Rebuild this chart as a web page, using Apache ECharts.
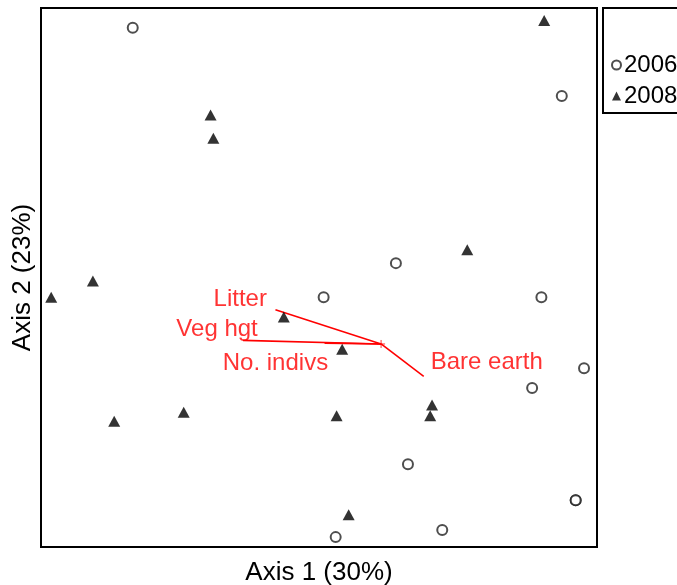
<!DOCTYPE html>
<html>
<head>
<meta charset="utf-8">
<script src="https://cdn.jsdelivr.net/npm/echarts@6/dist/echarts.min.js"></script>
<style>
html,body{margin:0;padding:0;background:#fff;}
#chart_main{width:677px;height:585px;}
</style>
</head>
<body>
<div id="chart_main"></div>
<script>
// 样本得分 (axis 1, axis 2)
var pts2006 = [
	[-2.01, 2.78], [2.62, 2.02], [0.83, 0.16], [0.05, -0.22], [2.40, -0.22],
	[2.86, -1.01], [2.30, -1.23], [0.96, -2.08], [2.77, -2.48], [2.77, -2.48],
	[1.33, -2.81], [0.18, -2.89]
];
var pts2008 = [
	[2.43, 2.86], [-1.17, 1.81], [-1.14, 1.55], [1.60, 0.31], [-2.44, -0.04],
	[-2.89, -0.22], [-0.38, -0.44], [0.25, -0.80], [-2.21, -1.60], [-1.46, -1.50],
	[0.19, -1.54], [1.22, -1.42], [1.20, -1.54], [0.32, -2.64]
];
// 环境变量矢量
var vecOrigin = [0.67, -0.74];
var vecNames = ['Litter', 'Veg hgt', 'No. indivs', 'Bare earth'];
var vecEnds = [[-0.47, -0.36], [-0.82, -0.70], [0.06, -0.73], [1.13, -1.10]];
var vecLabelPos = [[-0.85, -0.24], [-1.10, -0.58], [-0.47, -0.96], [1.81, -0.94]];

var chart = echarts.init(document.getElementById('chart_main'));

var vecLines = [];
var vecLabels = [];
for (var i = 0; i < vecNames.length; i++) {
	vecLines.push({coords: [vecOrigin, vecEnds[i]]});
	vecLabels.push({name: vecNames[i], value: vecLabelPos[i]});
}

var font = 'Liberation Sans, Arial, sans-serif';

var option = {
	animation: false,
	grid: {left: 41, top: 8, width: 556, height: 539, outerBoundsMode: 'none', containLabel: false},
	xAxis: {
		type: 'value', min: -3, max: 3,
		name: 'Axis 1 (30%)', nameLocation: 'middle', nameGap: 13,
		nameTextStyle: {fontFamily: font, fontSize: 26, color: '#000', verticalAlign: 'top'},
		axisLine: {show: false}, axisTick: {show: false},
		axisLabel: {show: false}, splitLine: {show: false}
	},
	yAxis: {
		type: 'value', min: -3, max: 3,
		name: 'Axis 2 (23%)', nameLocation: 'middle', nameGap: 5,
		nameTextStyle: {fontFamily: font, fontSize: 26, color: '#000', verticalAlign: 'bottom'},
		axisLine: {show: false}, axisTick: {show: false},
		axisLabel: {show: false}, splitLine: {show: false}
	},
	legend: {
		orient: 'vertical', left: 611, top: 53, padding: 0,
		itemWidth: 9, itemHeight: 9, itemGap: 7,
		textStyle: {fontFamily: font, fontSize: 24, color: '#000', padding: [0, 0, 0, -2]},
		data: ['2006', '2008']
	},
	graphic: [
		{type: 'rect', shape: {x: 41, y: 8, width: 556, height: 539}, style: {fill: 'none', stroke: '#000', lineWidth: 2}, z: 10},
		{type: 'rect', shape: {x: 603, y: 8, width: 120, height: 105}, style: {fill: 'none', stroke: '#000', lineWidth: 2}, z: 10}
	],
	series: [
		{
			name: '2006', type: 'scatter', symbol: 'emptyCircle', symbolSize: 10,
			itemStyle: {color: '#222', borderWidth: 1},
			data: pts2006
		},
		{
			name: '2008', type: 'scatter', symbol: 'triangle', symbolSize: [12, 11],
			itemStyle: {color: '#000'},
			data: pts2008
		},
		{
			type: 'lines', coordinateSystem: 'cartesian2d', silent: true,
			lineStyle: {color: '#ff0000', width: 1.6, opacity: 1},
			data: vecLines
		},
		{
			type: 'scatter', symbol: 'path://M0,5L10,5M5,0L5,10', symbolSize: 8, silent: true,
			itemStyle: {color: 'none', borderColor: '#ff0000', borderWidth: 1},
			data: [vecOrigin]
		},
		{
			type: 'scatter', symbolSize: 0, silent: true,
			label: {show: true, position: 'inside', formatter: '{b}', color: '#ff0000', fontFamily: font, fontSize: 24},
			data: vecLabels
		}
	]
};
chart.setOption(option);
</script>
</body>
</html>
